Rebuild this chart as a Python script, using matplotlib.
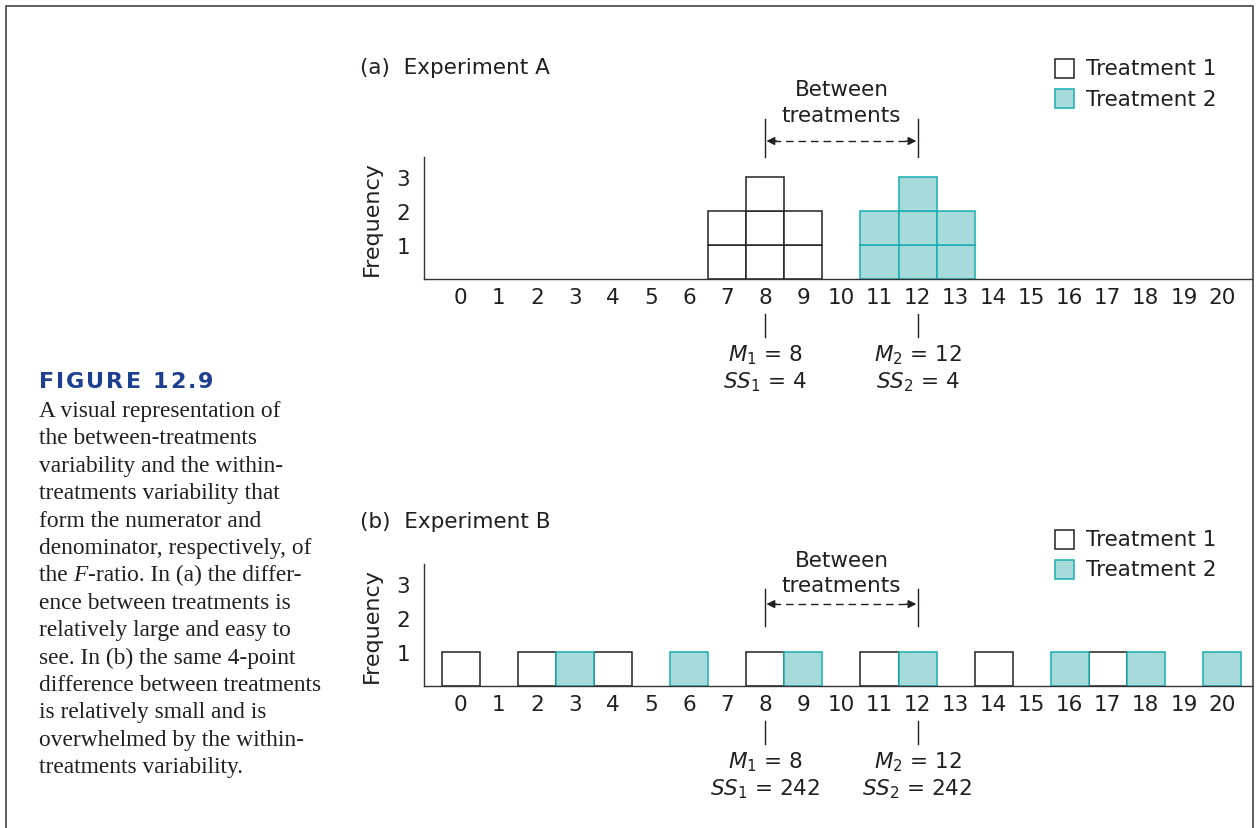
import numpy as np
import matplotlib
matplotlib.use('Agg')
import matplotlib.pyplot as plt
from matplotlib.patches import Rectangle

# scores in each treatment, for the two experiments
exp_a_t1 = [7, 7, 8, 8, 8, 9, 9]
exp_a_t2 = [11, 11, 12, 12, 12, 13, 13]
exp_b_t1 = [0, 2, 4, 8, 11, 14, 17]
exp_b_t2 = [3, 6, 9, 12, 16, 18, 20]

x_ticks = list(range(0, 21))
y_ticks = [1, 2, 3]
panel_titles = ['(a)  Experiment A', '(b)  Experiment B']
legend_labels = ['Treatment 1', 'Treatment 2']
between_label = ['Between', 'treatments']

caption_title = 'FIGURE 12.9'
caption_lines = [
    'A visual representation of',
    'the between-treatments',
    'variability and the within-',
    'treatments variability that',
    'form the numerator and',
    'denominator, respectively, of',
    'the *F*-ratio. In (a) the differ-',
    'ence between treatments is',
    'relatively large and easy to',
    'see. In (b) the same 4-point',
    'difference between treatments',
    'is relatively small and is',
    'overwhelmed by the within-',
    'treatments variability.',
]

TXT = '#231f20'
T1_EDGE = '#222222'
T2_FILL = '#a6dadb'
T2_EDGE = '#1aaeb0'
FS = 15.5

plt.rcParams['mathtext.fontset'] = 'dejavusans'

W, H = 1258, 829
fig = plt.figure(figsize=(W / 100, H / 100), dpi=100)
renderer = fig.canvas.get_renderer()

# overlay in pixel coordinates for caption, border, titles, legends
ov = fig.add_axes([0, 0, 1, 1])
ov.set_xlim(0, W)
ov.set_ylim(H, 0)
ov.axis('off')

# frame round the figure (open at the bottom)
ov.plot([6, 6, 1253, 1253], [H, 7, 7, H], color='#444444', lw=1.2, clip_on=False)


def draw_runs(x, y, runs):
    # put text pieces one after the other on the same baseline
    for txt, props in runs:
        t = ov.text(x, y, txt, ha='left', va='baseline', **props)
        x += t.get_window_extent(renderer).width


# caption title, slightly letter-spaced
x = 39
for ch in caption_title:
    t = ov.text(x, 388, ch, ha='left', va='baseline', fontsize=16,
                fontweight='bold', color='#1d3f8e', family='DejaVu Sans')
    x += t.get_window_extent(renderer).width + 2.0

serif = dict(fontsize=16.8, color=TXT, family='Liberation Serif')
for i, line in enumerate(caption_lines):
    runs = []
    for k, p in enumerate(line.split('*')):
        if not p:
            continue
        props = dict(serif)
        if k % 2 == 1:
            props['style'] = 'italic'
        runs.append((p, props))
    draw_runs(39, 417 + i * 27.4, runs)


def draw_panel(rect, t1, t2, title, title_y, legend_y, lev):
    ax = fig.add_axes(rect)
    ax.set_xlim(-0.97, 20.79)
    ax.set_ylim(0, 3.59)
    for s in ['top', 'right']:
        ax.spines[s].set_visible(False)
    for s in ['left', 'bottom']:
        ax.spines[s].set_color('#333333')
        ax.spines[s].set_linewidth(1.0)
    ax.patch.set_visible(False)
    ax.set_xticks(x_ticks)
    ax.set_yticks(y_ticks)
    ax.tick_params(axis='x', length=0, labelsize=FS, pad=6, labelcolor=TXT)
    ax.tick_params(axis='y', length=0, labelsize=FS, pad=10, labelcolor=TXT)
    ax.text(-0.063, 0.5, 'Frequency', transform=ax.transAxes, rotation=90,
            ha='center', va='center', fontsize=16, color=TXT)

    for vals, fc, ec in [(t1, 'white', T1_EDGE), (t2, T2_FILL, T2_EDGE)]:
        u, c = np.unique(vals, return_counts=True)
        for v, n in zip(u, c):
            for j in range(n):
                ax.add_patch(Rectangle((v - 0.5, j), 1, 1, facecolor=fc,
                                       edgecolor=ec, lw=1.1, clip_on=False))

    # means and SS below the axis
    means = []
    for k, vals in enumerate([t1, t2]):
        m = np.mean(vals)
        ss = np.sum((np.array(vals) - m) ** 2)
        means.append(m)
        ax.plot([m, m], [-1.03, -1.71], color=TXT, lw=1.0, clip_on=False)
        ax.text(m, -2.2, r'$M_%d$ = %g' % (k + 1, m), ha='center', va='center',
                fontsize=FS, color=TXT)
        ax.text(m, -3.0, r'$SS_%d$ = %g' % (k + 1, ss), ha='center', va='center',
                fontsize=FS, color=TXT)

    # between-treatments distance
    y0, y1, ya, yb, yt = lev
    m1, m2 = means
    for m in means:
        ax.plot([m, m], [y0, y1], color=TXT, lw=1.0, clip_on=False)
    ax.plot([m1 + 0.2, m2 - 0.2], [ya, ya], color=TXT, lw=1.0,
            dashes=(5.5, 3.5), clip_on=False)
    for a, b in [(m1 + 0.3, m1 + 0.03), (m2 - 0.3, m2 - 0.03)]:
        ax.annotate('', xy=(b, ya), xytext=(a, ya),
                    arrowprops=dict(arrowstyle='-|>', color=TXT, lw=1.0,
                                    mutation_scale=12, shrinkA=0, shrinkB=0),
                    annotation_clip=False)
    mid = (m1 + m2) / 2
    ax.text(mid, yb, between_label[0], ha='center', va='center', fontsize=FS, color=TXT)
    ax.text(mid, yt, between_label[1], ha='center', va='center', fontsize=FS, color=TXT)

    # panel title and legend
    ov.text(360, title_y, title, ha='left', va='center', fontsize=FS, color=TXT)
    for k, (fc, ec) in enumerate([('white', T1_EDGE), (T2_FILL, T2_EDGE)]):
        yc = legend_y + k * 30.5
        ov.add_patch(Rectangle((1055, yc - 9.5), 19, 19, facecolor=fc,
                               edgecolor=ec, lw=1.1))
        ov.text(1086, yc, legend_labels[k], ha='left', va='center',
                fontsize=FS, color=TXT)
    return ax


left = 424 / W
width = (1252 - 424) / W
height = 122 / H
draw_panel([left, 1 - 280 / H, width, height], exp_a_t1, exp_a_t2,
           panel_titles[0], 68, 69, (3.59, 4.7, 4.06, 5.59, 4.82))
draw_panel([left, 1 - 687 / H, width, height], exp_b_t1, exp_b_t2,
           panel_titles[1], 522, 540, (1.76, 2.85, 2.41, 3.7, 2.97))

fig.savefig('out.png', dpi=100)
